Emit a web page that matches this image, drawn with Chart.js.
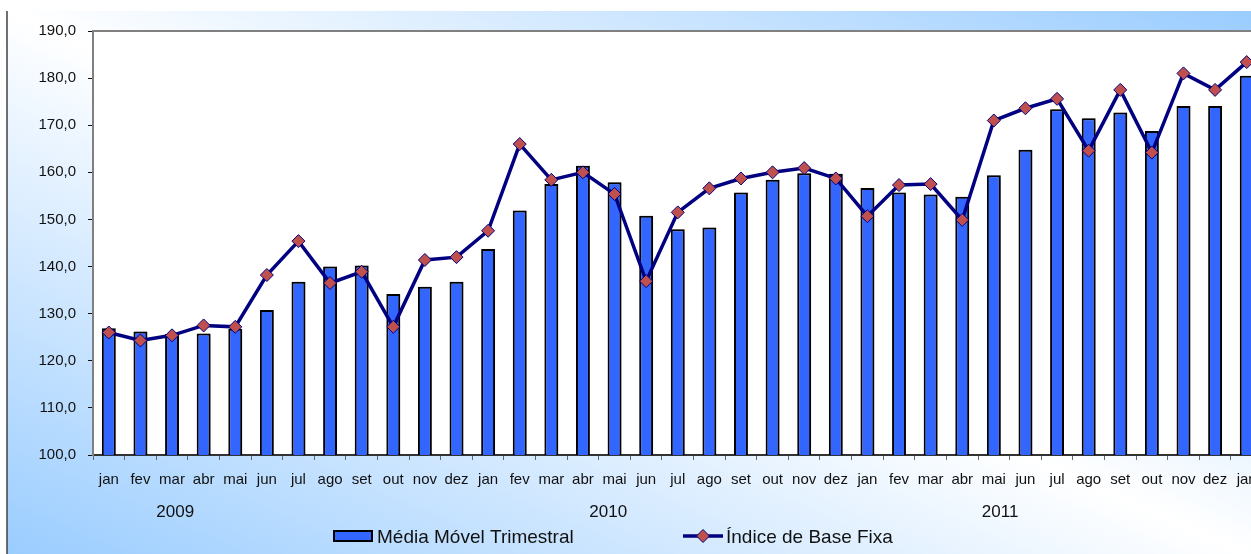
<!DOCTYPE html>
<html lang="pt">
<head>
<meta charset="utf-8">
<title>Média Móvel Trimestral / Índice de Base Fixa</title>
<script src="https://cdn.jsdelivr.net/npm/chart.js@4.4.1/dist/chart.umd.min.js"></script>
<style>
  html, body { margin: 0; padding: 0; overflow: hidden; background: #fff; }
  #wrap { width: 1270px; height: 554px; }
</style>
</head>
<body>
<div id="wrap"><canvas id="chart" width="1270" height="554"></canvas></div>
<script>
// categories: jan/2009 .. jan/2012
const MONTHS = [
  "jan", "fev", "mar", "abr", "mai", "jun", "jul", "ago", "set", "out", "nov", "dez",
  "jan", "fev", "mar", "abr", "mai", "jun", "jul", "ago", "set", "out", "nov", "dez",
  "jan", "fev", "mar", "abr", "mai", "jun", "jul", "ago", "set", "out", "nov", "dez",
  "jan",
];
const YEARS = ["2009", "2010", "2011"];
const YEAR_AT = [2.1, 15.8, 28.2]; // category index the year label sits under

const MEDIA_MOVEL = [
  126.9, 126.2, 125.7, 125.8, 126.8, 130.8, 136.8, 140.0, 140.2, 134.2, 135.7, 136.8,
  143.7, 151.9, 157.5, 161.4, 157.9, 150.8, 147.9, 148.3, 155.7, 158.4, 159.8, 159.7,
  156.7, 155.7, 155.3, 154.8, 159.4, 164.8, 173.4, 171.5, 172.7, 168.8, 174.1, 174.1,
  180.5,
];
const INDICE_BASE = [
  126.0, 124.3, 125.4, 127.5, 127.2, 138.2, 145.4, 136.5, 138.9, 127.2, 141.4, 142.0,
  147.6, 166.0, 158.4, 160.0, 155.4, 136.9, 151.5, 156.6, 158.7, 160.0, 160.9, 158.7,
  150.7, 157.3, 157.5, 149.9, 171.0, 173.6, 175.6, 164.6, 177.5, 164.2, 181.0, 177.5,
  183.4,
];

const FONT = "'Liberation Sans', Arial, sans-serif";
const BAR_BLUE = "#3366FF";
const NAVY = "#000080";
const MARKER = "#C0504D";

// chart-area gradient + white plot area
const frame = {
  id: "frame",
  beforeDraw(chart) {
    const { ctx, chartArea: a } = chart;
    const x0 = 7, y0 = 11, w = 1262 - x0, h = chart.height + 6 - y0;
    ctx.save();
    ctx.translate(x0, y0);
    ctx.scale(w, h);
    const g = ctx.createLinearGradient(0, 1, 1, 0);
    g.addColorStop(0, "#99CCFF");
    g.addColorStop(0.5, "#FFFFFF");
    g.addColorStop(1, "#99CCFF");
    ctx.fillStyle = g;
    ctx.fillRect(0, 0, 1, 1);
    ctx.restore();

    ctx.save();
    ctx.strokeStyle = "#404040";
    ctx.lineWidth = 1.5;
    ctx.beginPath();
    ctx.moveTo(x0, y0);
    ctx.lineTo(x0, chart.height);
    ctx.stroke();
    ctx.fillStyle = "#fff";
    ctx.fillRect(a.left, a.top, a.right - a.left, a.bottom - a.top);
    ctx.strokeStyle = "#808080";
    ctx.lineWidth = 2;
    ctx.beginPath();
    ctx.moveTo(a.left, a.top);
    ctx.lineTo(a.right, a.top);
    ctx.stroke();
    ctx.restore();
  },
};

const barShadow = {
  id: "barShadow",
  beforeDatasetDraw(chart, args) {
    if (chart.data.datasets[args.index].type !== "bar") return;
    const c = chart.ctx;
    c.save();
    c.shadowColor = "rgba(0,0,0,0.28)";
    c.shadowOffsetX = 2;
    c.shadowOffsetY = 0;
    c.shadowBlur = 1;
  },
  afterDatasetDraw(chart, args) {
    if (chart.data.datasets[args.index].type !== "bar") return;
    chart.ctx.restore();
  },
};

// year labels under the months, and the legend at the bottom
const footer = {
  id: "footer",
  afterDraw(chart) {
    const { ctx } = chart;
    const xs = chart.scales.x;
    ctx.save();
    ctx.fillStyle = "#111";
    ctx.textAlign = "center";
    ctx.textBaseline = "alphabetic";
    ctx.font = `17px ${FONT}`;
    YEARS.forEach((y, i) => ctx.fillText(y, xs.getPixelForValue(YEAR_AT[i]), 517));

    const bars = chart.data.datasets.find((d) => d.type === "bar");
    const line = chart.data.datasets.find((d) => d.type === "line");
    const cy = 536;

    ctx.fillStyle = BAR_BLUE;
    ctx.fillRect(334, cy - 5, 38, 10);
    ctx.strokeStyle = "#000";
    ctx.lineWidth = 2;
    ctx.strokeRect(334, cy - 5, 38, 10);

    ctx.strokeStyle = NAVY;
    ctx.lineWidth = 3.5;
    ctx.beginPath();
    ctx.moveTo(683, cy);
    ctx.lineTo(723, cy);
    ctx.stroke();
    const r = 6.5, mx = 703;
    ctx.beginPath();
    ctx.moveTo(mx, cy - r);
    ctx.lineTo(mx + r, cy);
    ctx.lineTo(mx, cy + r);
    ctx.lineTo(mx - r, cy);
    ctx.closePath();
    ctx.fillStyle = MARKER;
    ctx.fill();
    ctx.lineWidth = 1;
    ctx.stroke();

    ctx.fillStyle = "#111";
    ctx.textAlign = "left";
    ctx.font = `19px ${FONT}`;
    ctx.fillText(bars.label, 377, cy + 7);
    ctx.fillText(line.label, 726, cy + 7);
    ctx.restore();
  },
};

new Chart(document.getElementById("chart"), {
  data: {
    labels: MONTHS,
    datasets: [
      {
        type: "line",
        label: "Índice de Base Fixa",
        data: INDICE_BASE,
        order: 0,
        borderColor: NAVY,
        borderWidth: 3.5,
        tension: 0,
        pointStyle: "rectRot",
        pointRadius: 6.5,
        pointBackgroundColor: MARKER,
        pointBorderColor: NAVY,
        pointBorderWidth: 1,
      },
      {
        type: "bar",
        label: "Média Móvel Trimestral",
        data: MEDIA_MOVEL,
        order: 1,
        backgroundColor: BAR_BLUE,
        borderColor: "#000",
        borderWidth: 2,
        barPercentage: 0.44,
        categoryPercentage: 1,
      },
    ],
  },
  options: {
    responsive: false,
    animation: false,
    events: [],
    layout: { padding: { left: 7, top: 31, right: 3, bottom: 0 } },
    plugins: { legend: { display: false }, tooltip: { enabled: false } },
    scales: {
      x: {
        offset: true,
        grid: { offset: true, drawOnChartArea: false, tickLength: 5, color: "#666" },
        border: { color: "#333", width: 2 },
        ticks: {
          autoSkip: false,
          maxRotation: 0,
          padding: 11,
          color: "#111",
          font: { family: FONT, size: 15 },
        },
        afterFit: (s) => { s.height = 99; },
      },
      y: {
        min: 100,
        max: 190,
        grid: { drawOnChartArea: false, tickLength: 5, color: "#111" },
        border: { color: "#808080", width: 2 },
        ticks: {
          stepSize: 10,
          padding: 12,
          color: "#111",
          font: { family: FONT, size: 15 },
          callback: (v) => v.toFixed(1).replace(".", ","),
        },
        afterFit: (s) => { s.width = 86; },
      },
    },
  },
  plugins: [frame, barShadow, footer],
});
</script>
</body>
</html>
